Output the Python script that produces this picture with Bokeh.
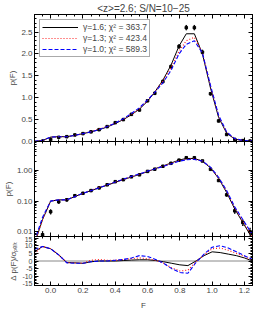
from bokeh.plotting import figure
from bokeh.layouts import column
from bokeh.models import (Range1d, LinearAxis, LogAxis, Legend, LegendItem,
                          FixedTicker, PrintfTickFormatter, CustomJSTickFormatter)
from bokeh.embed import file_html
from bokeh.resources import INLINE

# ---------------- data ----------------
title_text = "<z>=2.6; S/N=10\u221225"

F_obs = [-0.05, 0.00, 0.05, 0.10, 0.15, 0.20, 0.25, 0.30, 0.35, 0.40, 0.45, 0.50,
         0.55, 0.60, 0.645, 0.695, 0.745, 0.795, 0.84, 0.89, 0.94, 0.99, 1.04,
         1.09, 1.14, 1.19, 1.235]
p_obs = [0.008, 0.045, 0.095, 0.11, 0.15, 0.18, 0.22, 0.27, 0.34, 0.43, 0.50, 0.62,
         0.72, 0.93, 1.10, 1.37, 1.71, 2.17, 2.60, 2.60, 2.04, 1.09, 0.47,
         0.16, 0.048, 0.020, 0.010]
p_err = [0.002, 0.007, 0.010, 0.010, 0.010, 0.010, 0.012, 0.012, 0.014, 0.015, 0.016, 0.018,
         0.020, 0.022, 0.025, 0.030, 0.035, 0.040, 0.050, 0.050, 0.045, 0.030, 0.020,
         0.015, 0.008, 0.004, 0.003]

F_mod = [-0.10, -0.05, 0.00, 0.05, 0.10, 0.15, 0.20, 0.25, 0.30, 0.35, 0.40, 0.45,
         0.50, 0.55, 0.60, 0.645, 0.695, 0.745, 0.795, 0.84, 0.89, 0.94, 0.99,
         1.04, 1.09, 1.14, 1.19, 1.25]
p_g16 = [0.004, 0.025, 0.10, 0.11, 0.11, 0.14, 0.18, 0.22, 0.27, 0.33, 0.41, 0.50,
         0.61, 0.74, 0.92, 1.13, 1.40, 1.74, 2.18, 2.46, 2.46, 2.00, 1.22,
         0.55, 0.19, 0.055, 0.020, 0.006]
p_g13 = [0.004, 0.025, 0.10, 0.11, 0.11, 0.14, 0.18, 0.225, 0.28, 0.34, 0.42, 0.51,
         0.62, 0.75, 0.94, 1.13, 1.38, 1.68, 2.06, 2.30, 2.38, 2.02, 1.26,
         0.58, 0.21, 0.060, 0.022, 0.007]
p_g10 = [0.005, 0.030, 0.10, 0.11, 0.11, 0.14, 0.18, 0.22, 0.27, 0.34, 0.42, 0.52,
         0.64, 0.77, 0.95, 1.12, 1.34, 1.62, 2.00, 2.22, 2.30, 2.02, 1.28,
         0.60, 0.22, 0.065, 0.025, 0.008]

F_res = [-0.10, -0.05, 0.00, 0.05, 0.10, 0.15, 0.20, 0.25, 0.30, 0.35, 0.40, 0.45,
         0.50, 0.55, 0.60, 0.65, 0.70, 0.75, 0.80, 0.85, 0.90, 0.95, 1.00, 1.05,
         1.10, 1.15, 1.20, 1.25]
r_g16 = [6, 9.5, 8, 4, -1, -1.2, -1.5, -0.5, 0, 0, 0, 0.3, 0.6, 0.8, 0.8, 0.3,
         -0.5, -1.5, -2.5, -3, 0, 3.5, 6, 5.5, 4.5, 3.5, 2, 0]
r_g13 = [5, 9.5, 8, 4, -1, -1.2, -1.5, 0.5, 1, 0.5, 0.5, 1, 1.5, 2, 1.5, 0.5,
         -1.5, -4.5, -6.5, -6, -0.5, 4, 8, 8.5, 7, 5, 3, 0.5]
r_g10 = [7.5, 9.5, 8, 4, -1.2, -1.5, -1.5, -0.5, 0, 0, 0.5, 1, 2, 3.5, 3, 1,
         -1.5, -5, -7.5, -8, -1, 4.5, 9, 10, 8.5, 6, 3.5, 1]

labels = ["\u03b3=1.6; \u03c7\u00b2 = 363.7",
          "\u03b3=1.3; \u03c7\u00b2 = 423.4",
          "\u03b3=1.0; \u03c7\u00b2 = 589.3"]

x_ticks = [0.0, 0.2, 0.4, 0.6, 0.8, 1.0, 1.2]
lin_ticks = [0.0, 0.5, 1.0, 1.5, 2.0, 2.5]
log_ticks = [0.01, 0.1, 1.0]
res_ticks = [-15, -10, -5, 0, 5, 10, 15]

# ---------------- styling ----------------
FONT = "Liberation Sans"
FW = 218
BL = 27
BR = 13
OV = 5  # overlap so edge tick labels are not clipped
x_range = Range1d(-0.1, 1.25)

x_minor = [round(-0.1 + 0.05 * i, 3) for i in range(28)]
lin_minor = [round(0.1 * i, 2) for i in range(30)]
log_minor = [k * 10.0 ** e for e in (-3, -2, -1, 0) for k in range(1, 10)]
res_minor = [float(v) for v in range(-16, 17)]


def style_axis(ax, show_labels, ticker, fmt=None):
    ax.ticker = ticker
    ax.major_tick_in = 4
    ax.major_tick_out = 0
    ax.minor_tick_in = 2
    ax.minor_tick_out = 0
    ax.axis_line_color = "black"
    ax.major_tick_line_color = "black"
    ax.minor_tick_line_color = "black"
    ax.major_label_text_font = FONT
    ax.axis_label_text_font = FONT
    ax.axis_label_text_font_style = "normal"
    ax.axis_label_text_font_size = "8px"
    if show_labels:
        ax.formatter = PrintfTickFormatter(format=fmt)
        ax.major_label_text_font_size = "8px"
        ax.major_label_standoff = 2
    else:
        ax.formatter = CustomJSTickFormatter(code="return ''")
        ax.major_label_text_font_size = "1px"
        ax.major_label_standoff = 0


def make_fig(frame_h, y_range, y_type, ytick, yminor, yfmt, ylabel, bottom,
             title=None, bb=0, margin=None, transparent=False):
    kw = dict(frame_width=FW, frame_height=frame_h, x_range=x_range,
              y_range=y_range, y_axis_type=y_type, output_backend="svg",
              toolbar_location=None, min_border_left=BL, min_border_right=BR,
              min_border_top=0, min_border_bottom=bb,
              x_axis_location=None, y_axis_location=None)
    if title is not None:
        kw["title"] = title
    if margin is not None:
        kw["margin"] = margin
    p = figure(**kw)
    p.grid.visible = False
    p.outline_line_color = "black"
    if transparent:
        p.background_fill_alpha = 0
        p.border_fill_alpha = 0
    else:
        p.background_fill_color = "white"
        p.border_fill_color = "white"
    if title is not None:
        p.title.align = "center"
        p.title.text_font = FONT
        p.title.text_font_size = "10px"
        p.title.text_font_style = "normal"
        p.title.standoff = 1
    AxisY = LogAxis if y_type == "log" else LinearAxis
    left = AxisY()
    style_axis(left, True, FixedTicker(ticks=ytick, minor_ticks=yminor), yfmt)
    left.axis_label = ylabel
    left.axis_label_standoff = 1
    p.add_layout(left, "left")
    right = AxisY()
    style_axis(right, False, FixedTicker(ticks=ytick, minor_ticks=yminor))
    p.add_layout(right, "right")
    below = LinearAxis()
    style_axis(below, bottom, FixedTicker(ticks=x_ticks, minor_ticks=x_minor), "%.1f")
    if bottom:
        below.axis_label = "F"
        below.axis_label_standoff = 5
    p.add_layout(below, "below")
    above = LinearAxis()
    style_axis(above, False, FixedTicker(ticks=x_ticks, minor_ticks=x_minor))
    p.add_layout(above, "above")
    return p


def draw_models(p, xs, ys_list):
    rs = []
    rs.append(p.line(xs, ys_list[0], line_color="black", line_width=1))
    rs.append(p.line(xs, ys_list[1], line_color="#ff2020", line_width=1.2, line_dash="1 2"))
    rs.append(p.line(xs, ys_list[2], line_color="#0000ff", line_width=1.1, line_dash="4 2"))
    return rs


def draw_data(p):
    lo = [v - e for v, e in zip(p_obs, p_err)]
    hi = [v + e for v, e in zip(p_obs, p_err)]
    p.segment(F_obs, lo, F_obs, hi, line_color="black", line_width=1)
    cw = 0.004
    p.segment([f - cw for f in F_obs], lo, [f + cw for f in F_obs], lo, line_color="black", line_width=1)
    p.segment([f - cw for f in F_obs], hi, [f + cw for f in F_obs], hi, line_color="black", line_width=1)
    p.scatter(F_obs, p_obs, marker="square", size=2.5, color="black")


# top: linear
p1 = make_fig(127, Range1d(0.0, 2.9), "linear", lin_ticks, lin_minor, "%.1f",
              "p(F)", False, title=title_text, bb=OV, margin=(0, 0, -OV, 0))
draw_data(p1)
rs = draw_models(p1, F_mod, [p_g16, p_g13, p_g10])
leg = Legend(items=[LegendItem(label=labels[i], renderers=[rs[i]]) for i in range(3)],
             location="top_left")
leg.label_text_font = FONT
leg.label_text_font_size = "8.5px"
leg.glyph_width = 36
leg.glyph_height = 8
leg.label_height = 8
leg.spacing = 1
leg.padding = 2
leg.margin = 5
leg.label_standoff = 5
leg.border_line_color = "#555555"
leg.border_line_width = 1
leg.background_fill_alpha = 1
p1.add_layout(leg)

# middle: log
p2 = make_fig(95, Range1d(0.007, 8.8), "log", log_ticks, log_minor, "%.2f",
              "p(F)", False, bb=OV, margin=(0, 0, -OV, 0), transparent=True)
draw_data(p2)
draw_models(p2, F_mod, [p_g16, p_g13, p_g10])

# bottom: residuals
p3 = make_fig(49, Range1d(-16, 16), "linear", res_ticks, res_minor, "%d",
              "\u0394 p(F)/\u03c3\u209a\u2091\u1d63\u209c", True, transparent=True)
zero_x = [x_range.start, x_range.end]
p3.line(zero_x, [0, 0], line_color="#888888", line_width=1)
draw_models(p3, F_res, [r_g16, r_g13, r_g10])
p3.yaxis[0].major_label_text_font_size = "7px"

layout = column(p1, p2, p3, spacing=0)
open("out.html", "w").write(file_html(layout, INLINE))
